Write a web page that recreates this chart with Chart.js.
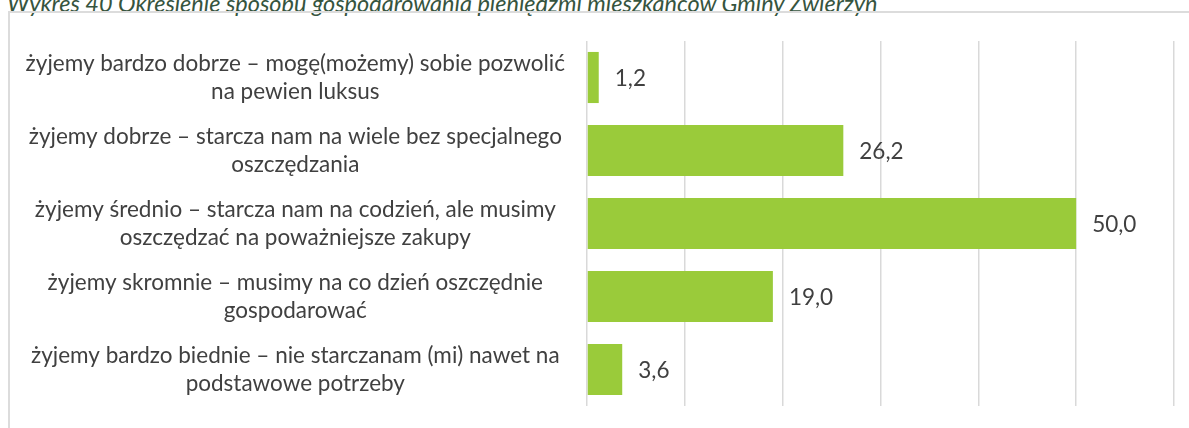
<!DOCTYPE html>
<html lang="pl">
<head>
<meta charset="utf-8">
<title>Wykres 40</title>
<script src="https://cdn.jsdelivr.net/npm/chart.js@4/dist/chart.umd.min.js"></script>
<style>
  html, body {
    margin: 0;
    padding: 0;
    width: 1189px;
    height: 428px;
    overflow: hidden;
    background: #ffffff;
  }
  .caption {
    position: absolute;
    left: 7px;
    top: -8px;
    font-family: Lato, sans-serif;
    font-style: italic;
    font-size: 23.5px;
    line-height: 23.5px;
    color: #36543e;
    white-space: nowrap;
  }
  .frame {
    position: absolute;
    left: 8px;
    top: 11px;
    width: 1300px;
    height: 500px;
    border-left: 2px solid #dcdcdc;
    border-top: 2px solid #dcdcdc;
  }
  .chart-box {
    position: absolute;
    left: 0;
    top: 0;
    width: 1189px;
    height: 428px;
  }
</style>
</head>
<body>
<div class="caption">Wykres 40 Określenie sposobu gospodarowania pieniędzmi mieszkańców Gminy Zwierzyn</div>
<div class="frame"></div>
<div class="chart-box"><canvas id="chart"></canvas></div>
<script>
// Answer categories (each line of a label is one entry)
const categories = [
  ['żyjemy bardzo dobrze – mogę(możemy) sobie pozwolić', 'na pewien luksus'],
  ['żyjemy dobrze – starcza nam na wiele bez specjalnego', 'oszczędzania'],
  ['żyjemy średnio – starcza nam na codzień, ale musimy', 'oszczędzać na poważniejsze zakupy'],
  ['żyjemy skromnie – musimy na co dzień oszczędnie', 'gospodarować'],
  ['żyjemy bardzo biednie – nie starczanam (mi) nawet na', 'podstawowe potrzeby']
];

// Share of respondents, %
const shares = [1.2, 26.2, 50.0, 19.0, 3.6];

// Value axis range and grid step
const axisMin = 0;
const axisMax = 60;
const axisStep = 10;

const textColor = '#404040';
const barColor = '#9acb3a';
const gridColor = '#d9d9d9';
const labelFont = { family: 'Lato', size: 22.5, lineHeight: 1.25 };

function formatValue(v) {
  return v.toFixed(1).replace('.', ',');
}

// Prints the value just past the end of each bar
const valueLabels = {
  id: 'valueLabels',
  afterDatasetsDraw(chart) {
    const { ctx } = chart;
    const meta = chart.getDatasetMeta(0);
    ctx.save();
    ctx.font = `${labelFont.size}px ${labelFont.family}`;
    ctx.fillStyle = textColor;
    ctx.textAlign = 'left';
    ctx.textBaseline = 'middle';
    meta.data.forEach((bar, i) => {
      ctx.fillText(formatValue(shares[i]), bar.x + 16, bar.y + 1);
    });
    ctx.restore();
  }
};

new Chart(document.getElementById('chart'), {
  type: 'bar',
  data: {
    labels: categories,
    datasets: [{
      data: shares,
      backgroundColor: barColor,
      borderWidth: 0,
      barPercentage: 0.7,
      categoryPercentage: 1.0
    }]
  },
  options: {
    indexAxis: 'y',
    responsive: true,
    maintainAspectRatio: false,
    animation: false,
    events: [],
    layout: {
      padding: { left: 0, right: 15, top: 41, bottom: 22 }
    },
    plugins: {
      legend: { display: false },
      title: { display: false },
      tooltip: { enabled: false }
    },
    scales: {
      x: {
        min: axisMin,
        max: axisMax,
        ticks: { display: false, stepSize: axisStep },
        border: { display: false },
        grid: { color: gridColor, lineWidth: 1.5, drawTicks: false },
        afterFit(scale) { scale.height = 0; }
      },
      y: {
        grid: { display: false, drawTicks: false },
        border: { display: false },
        ticks: {
          color: textColor,
          font: labelFont,
          crossAlign: 'center',
          padding: 22,
          autoSkip: false
        },
        afterFit(scale) {
          scale.width = 587;
          scale.paddingTop = 0;
          scale.paddingBottom = 0;
        }
      }
    }
  },
  plugins: [valueLabels]
});
</script>
</body>
</html>
